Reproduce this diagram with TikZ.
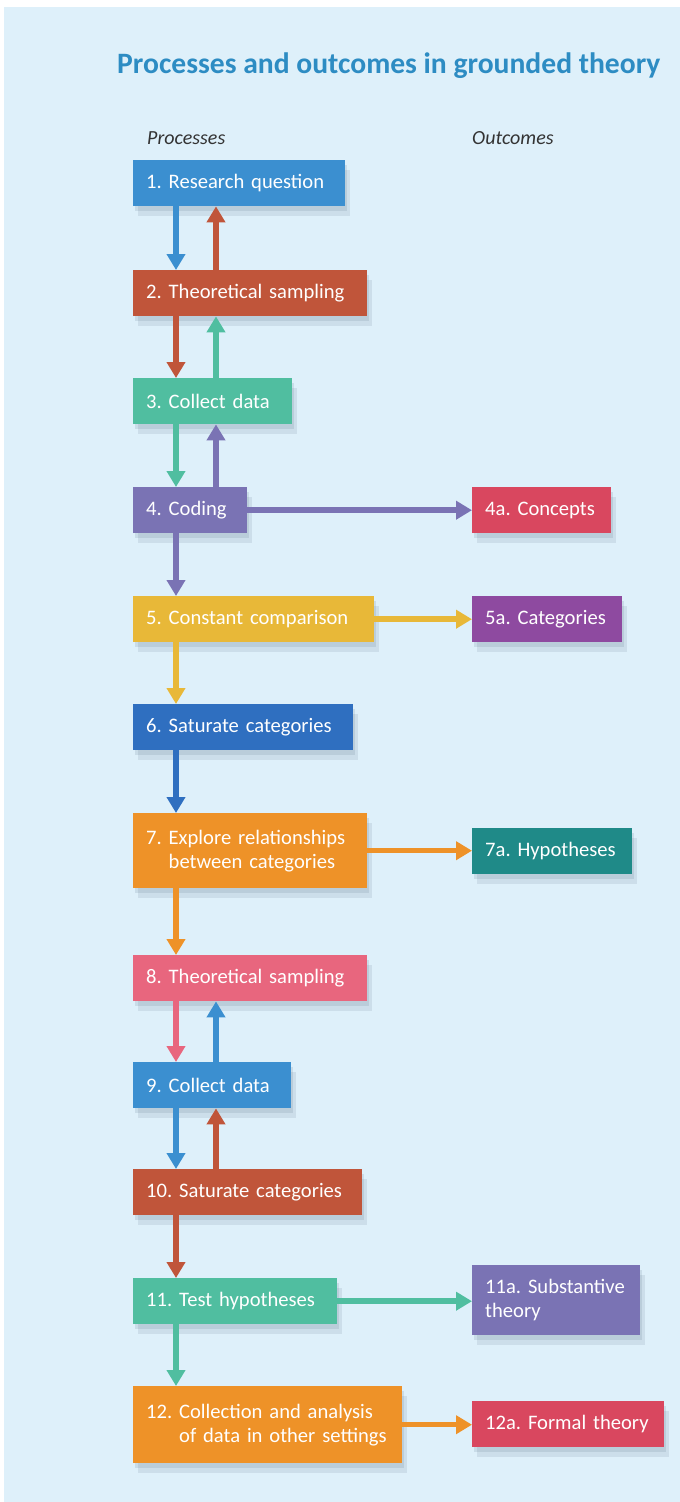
\documentclass[tikz,border=0pt]{standalone}
\usepackage{fontspec}
\setmainfont{Carlito}
\usetikzlibrary{arrows.meta,calc,shadows}

\definecolor{bgblue}{RGB}{222,240,250}
\definecolor{titleblue}{RGB}{45,140,195}
\definecolor{cshadow}{RGB}{80,100,125}
\definecolor{cblue}{RGB}{59,143,208}
\definecolor{crust}{RGB}{192,85,58}
\definecolor{cteal}{RGB}{80,190,160}
\definecolor{cpurple}{RGB}{122,115,180}
\definecolor{cred}{RGB}{217,71,95}
\definecolor{cgold}{RGB}{232,184,56}
\definecolor{cviolet}{RGB}{142,74,160}
\definecolor{cdeep}{RGB}{47,111,192}
\definecolor{corange}{RGB}{238,146,40}
\definecolor{cpetrol}{RGB}{31,138,136}
\definecolor{cpink}{RGB}{232,102,126}

\tikzset{
  proc/.style 2 args={fill=#1, text=white, anchor=north west, align=left,
    text width=#2, inner xsep=13pt, minimum height=46pt,
    font=\fontsize{20.6}{24}\selectfont\frenchspacing,
    execute at begin node={\hyphenpenalty10000\relax},
    drop shadow={shadow xshift=2pt, shadow yshift=-5pt, opacity=.14, fill=cshadow},
    drop shadow={shadow xshift=5pt, shadow yshift=-10pt, opacity=.12, fill=cshadow}},
  flow/.style={draw=#1, line width=5.5pt, -{Triangle[width=18pt,length=16pt]}},
  head/.style={anchor=base west, inner sep=0pt, text=black!80, font=\itshape\fontsize{20}{24}\selectfont}
}

\begin{document}
\begin{tikzpicture}[x=1pt,y=-1pt]
\useasboundingbox (0,0) rectangle (680,1502);
\fill[white] (0,0) rectangle (680,1502);
\fill[bgblue] (4,7) rectangle (680,1502);

\node[anchor=base west, inner sep=0pt, text=titleblue, font=\bfseries\fontsize{29.6}{34}\selectfont] (title) at (117,73) {Processes and outcomes in grounded theory};
\node[head] (hproc) at (147,144) {Processes};
\node[head] (hout) at (472,144) {Outcomes};

% processes
\node[proc={cblue}{186pt}] (r1) at (133,160) {1. Research question};
\node[proc={crust}{208pt}] (r2) at (133,270) {2. Theoretical sampling};
\node[proc={cteal}{133pt}] (r3) at (133,378) {3. Collect data};
\node[proc={cpurple}{88pt}] (r4) at (133,487) {4. Coding};
\node[proc={cgold}{215pt}] (r5) at (133,596) {5. Constant comparison};
\node[proc={cdeep}{194pt}] (r6) at (133,704) {6. Saturate categories};
\node[proc={corange}{208pt}, minimum height=75pt] (r7) at (133,813) {7. Explore relationships\\\phantom{7.\ }between categories};
\node[proc={cpink}{208pt}] (r8) at (133,955) {8. Theoretical sampling};
\node[proc={cblue}{132pt}] (r9) at (133,1062) {9. Collect data};
\node[proc={crust}{203pt}] (r10) at (133,1169) {10. Saturate categories};
\node[proc={cteal}{178pt}] (r11) at (133,1278) {11. Test hypotheses};
\node[proc={corange}{243pt}, minimum height=77pt] (r12) at (133,1386) {12. Collection and analysis\\\phantom{12.\ }of data in other settings};

% outcomes
\node[proc={cred}{113pt}] (o4) at (472,487) {4a. Concepts};
\node[proc={cviolet}{124pt}] (o5) at (472,596) {5a. Categories};
\node[proc={cpetrol}{134pt}] (o7) at (472,828) {7a. Hypotheses};
\node[proc={cpurple}{142pt}, minimum height=70pt] (o11) at (472,1265) {11a. Substantive\\theory};
\node[proc={cred}{166pt}] (o12) at (472,1401) {12a. Formal theory};

% down and back
\draw[flow=cblue] ($(r1.south west)+(43,0)$) -- ($(r2.north west)+(43,0)$);
\draw[flow=crust] ($(r2.north west)+(83,0)$) -- ($(r1.south west)+(83,0)$);
\draw[flow=crust] ($(r2.south west)+(43,0)$) -- ($(r3.north west)+(43,0)$);
\draw[flow=cteal] ($(r3.north west)+(83,0)$) -- ($(r2.south west)+(83,0)$);
\draw[flow=cteal] ($(r3.south west)+(43,0)$) -- ($(r4.north west)+(43,0)$);
\draw[flow=cpurple] ($(r4.north west)+(83,0)$) -- ($(r3.south west)+(83,0)$);
\draw[flow=cpurple] ($(r4.south west)+(43,0)$) -- ($(r5.north west)+(43,0)$);
\draw[flow=cgold] ($(r5.south west)+(43,0)$) -- ($(r6.north west)+(43,0)$);
\draw[flow=cdeep] ($(r6.south west)+(43,0)$) -- ($(r7.north west)+(43,0)$);
\draw[flow=corange] ($(r7.south west)+(43,0)$) -- ($(r8.north west)+(43,0)$);
\draw[flow=cpink] ($(r8.south west)+(43,0)$) -- ($(r9.north west)+(43,0)$);
\draw[flow=cblue] ($(r9.north west)+(83,0)$) -- ($(r8.south west)+(83,0)$);
\draw[flow=cblue] ($(r9.south west)+(43,0)$) -- ($(r10.north west)+(43,0)$);
\draw[flow=crust] ($(r10.north west)+(83,0)$) -- ($(r9.south west)+(83,0)$);
\draw[flow=crust] ($(r10.south west)+(43,0)$) -- ($(r11.north west)+(43,0)$);
\draw[flow=cteal] ($(r11.south west)+(43,0)$) -- ($(r12.north west)+(43,0)$);

% across to outcomes
\draw[flow=cpurple] (r4.east) -- (r4.east -| o4.west);
\draw[flow=cgold] (r5.east) -- (r5.east -| o5.west);
\draw[flow=corange] (r7.east) -- (r7.east -| o7.west);
\draw[flow=cteal] (r11.east) -- (r11.east -| o11.west);
\draw[flow=corange] (r12.east) -- (r12.east -| o12.west);
\end{tikzpicture}
\end{document}
